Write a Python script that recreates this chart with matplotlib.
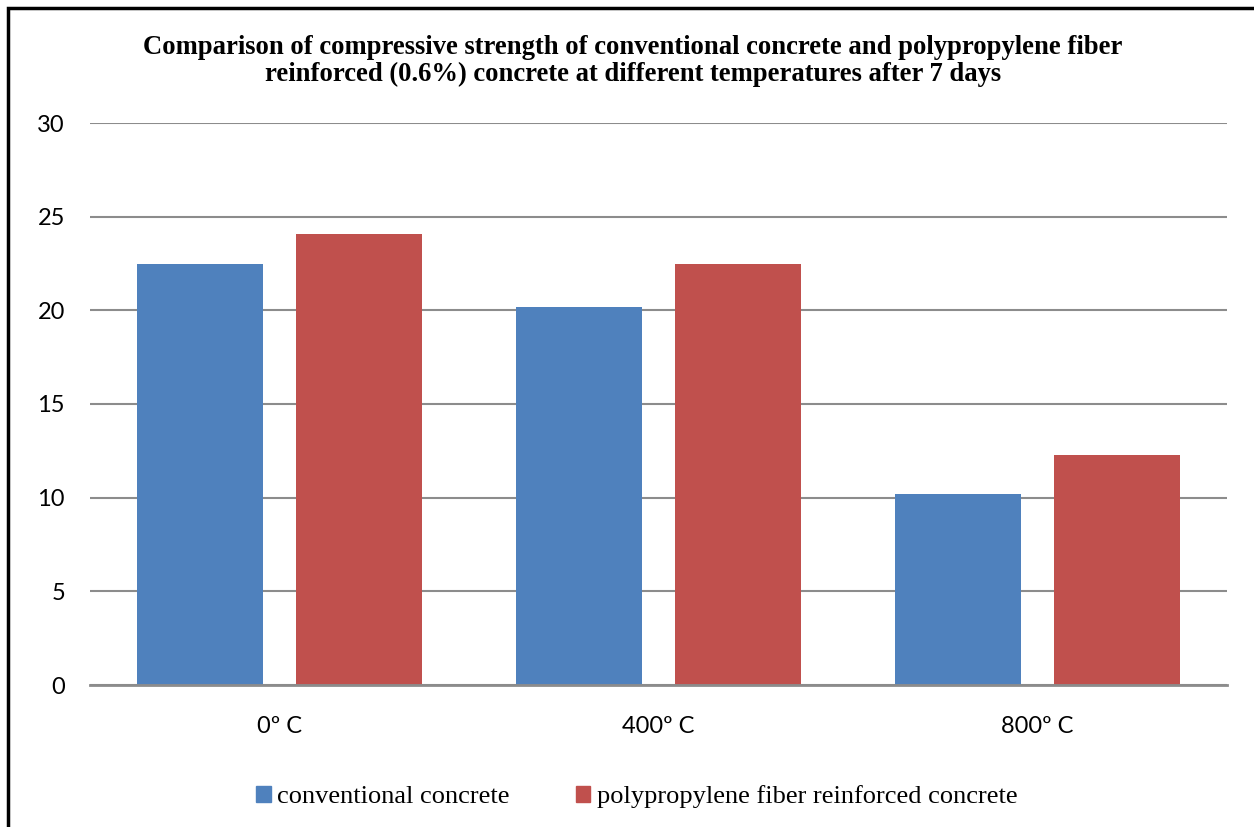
import matplotlib.pyplot as plt
import numpy as np
from matplotlib.patches import Patch, Rectangle

temperaturas = ['0º C', '400º C', '800º C']
convencional = [22.5, 20.2, 10.2]
polipropileno = [24.1, 22.5, 12.3]
nombres = ['conventional concrete', 'polypropylene fiber reinforced concrete']
colores = ['#4F81BD', '#C0504D']

titulo = ('Comparison of compressive strength of conventional concrete and polypropylene fiber\n'
          'reinforced (0.6%) concrete at different temperatures after 7 days')

fig = plt.figure(figsize=(12.54, 8.27), dpi=100)
ax = fig.add_axes([90/1254, 1-685/827, (1227-90)/1254, (685-123)/827])

x = np.arange(len(temperaturas))
ancho = 0.333
ax.bar(x - 0.21, convencional, ancho, color=colores[0], zorder=3)
ax.bar(x + 0.21, polipropileno, ancho, color=colores[1], zorder=3)

ax.set_xlim(-0.5, 2.5)
ax.set_ylim(0, 30)
ax.set_yticks(range(0, 31, 5))
ax.yaxis.grid(True, color='#8c8c8c', linewidth=1.5, zorder=0)
ax.set_axisbelow(True)
for lado in ['top', 'right', 'left']:
    ax.spines[lado].set_visible(False)
ax.spines['bottom'].set_color('#8c8c8c')
ax.spines['bottom'].set_linewidth(2)
ax.spines['bottom'].set_zorder(4)

ax.set_xticks(x)
ax.set_xticklabels(temperaturas)
ax.tick_params(axis='both', length=0, labelsize=17)
ax.tick_params(axis='y', pad=18)
ax.tick_params(axis='x', pad=22)
for t in ax.get_xticklabels() + ax.get_yticklabels():
    t.set_fontfamily('Lato')

fig.text(633/1254, 1-61/827, titulo, ha='center', va='center', multialignment='center',
         fontsize=19.2, fontweight='bold', family='Liberation Serif', linespacing=1.1)

manejadores = [Patch(color=c) for c in colores]
fig.legend(manejadores, nombres, loc='center', bbox_to_anchor=(637/1254, 1-797/827), ncol=2,
           frameon=False, prop={'family': 'Liberation Serif', 'size': 19},
           handlelength=0.55, handleheight=0.55, handletextpad=0.25, columnspacing=2.5)

fig.patches.append(Rectangle((8/1254, -0.05), 1.1, 1-8/827+0.05, transform=fig.transFigure,
                             fill=False, edgecolor='black', linewidth=2.5, zorder=10))

fig.savefig('out.png', dpi=100)
